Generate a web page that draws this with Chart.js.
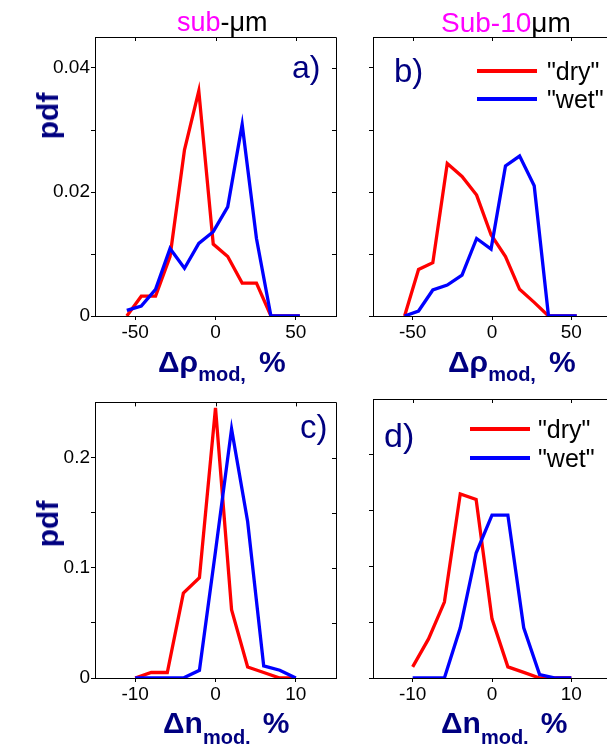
<!DOCTYPE html>
<html>
<head>
<meta charset="utf-8">
<script src="https://cdn.jsdelivr.net/npm/chart.js@4"></script>
<style>
  html, body { margin:0; padding:0; background:#fff; width:607px; height:744px; overflow:hidden; position:relative; }
  canvas { position:absolute; }
  .t { position:absolute; font-family:"Liberation Sans", Arial, sans-serif; line-height:1; white-space:nowrap; }
  .navy { color:#000080; }
  .bold { font-weight:bold; }
  .leg { position:absolute; height:0; border-top:4px solid; }
</style>
</head>
<body>
<canvas id="ca" width="345" height="390" style="left:0;top:0"></canvas>
<canvas id="cb" width="280" height="390" style="left:345px;top:0"></canvas>
<canvas id="cc" width="345" height="354" style="left:0;top:390px"></canvas>
<canvas id="cd" width="280" height="354" style="left:345px;top:390px"></canvas>

<!-- column titles -->
<div class="t" style="left:177px;top:9px;font-size:27px;"><span style="color:#ff00ff">sub</span>-<span>&mu;m</span></div>
<div class="t" style="left:441px;top:9px;font-size:28px;"><span style="color:#ff00ff">Sub-10</span><span>&mu;m</span></div>

<!-- panel letters -->
<div class="t navy" style="left:292px;top:51px;font-size:32px;">a)</div>
<div class="t navy" style="left:394px;top:54px;font-size:33px;">b)</div>
<div class="t navy" style="left:300px;top:410px;font-size:33px;">c)</div>
<div class="t navy" style="left:384px;top:418px;font-size:34px;">d)</div>

<!-- y titles -->
<div class="t navy bold" style="left:48px;top:116px;font-size:30px;transform:translate(-50%,-50%) rotate(-90deg);">pdf</div>
<div class="t navy bold" style="left:48px;top:524px;font-size:30px;transform:translate(-50%,-50%) rotate(-90deg);">pdf</div>

<!-- x titles -->
<div class="t navy bold" style="left:158px;top:347px;font-size:30px;">&Delta;&rho;<span style="font-size:20px;position:relative;top:9px;">mod</span><span style="font-size:20px;position:relative;top:9px;">,</span><span style="margin-left:13px">%</span></div>
<div class="t navy bold" style="left:448px;top:347px;font-size:30px;">&Delta;&rho;<span style="font-size:20px;position:relative;top:9px;">mod</span><span style="font-size:20px;position:relative;top:9px;">,</span><span style="margin-left:13px">%</span></div>
<div class="t navy bold" style="left:163px;top:708px;font-size:30px;">&Delta;n<span style="font-size:20px;position:relative;top:11px;">mod</span><span style="font-size:20px;position:relative;top:11px;">,</span><span style="margin-left:12px">%</span></div>
<div class="t navy bold" style="left:441px;top:708px;font-size:30px;">&Delta;n<span style="font-size:20px;position:relative;top:11px;">mod</span><span style="font-size:20px;position:relative;top:11px;">,</span><span style="margin-left:12px">%</span></div>

<!-- legends -->
<div class="leg" style="left:477px;top:69px;width:60px;border-color:#ff0000"></div>
<div class="t" style="left:547px;top:59px;font-size:25px;">"dry"</div>
<div class="leg" style="left:477px;top:97px;width:60px;border-color:#0000ff"></div>
<div class="t" style="left:547px;top:87px;font-size:25px;">"wet"</div>
<div class="leg" style="left:470px;top:427px;width:60px;border-color:#ff0000"></div>
<div class="t" style="left:538px;top:417px;font-size:25px;">"dry"</div>
<div class="leg" style="left:470px;top:456px;width:60px;border-color:#0000ff"></div>
<div class="t" style="left:538px;top:446px;font-size:25px;">"wet"</div>

<script>
// ---- data ----
const seriesNames = ['"dry"', '"wet"'];
const rhoBinsSubUm = [-55.2, -46.2, -37.3, -28.3, -19.3, -10.4, -1.4, 7.6, 16.6, 25.5, 34.5, 43.5, 52.5];
const rhoSubUmDry  = [0, 0.0032, 0.0032, 0.0096, 0.0268, 0.0363, 0.0116, 0.0096, 0.0053, 0.0053, 0, 0, 0];
const rhoSubUmWet  = [0.0009, 0.0016, 0.0043, 0.0109, 0.0077, 0.0117, 0.0136, 0.0176, 0.0309, 0.0125, 0, 0, 0];

const rhoBinsSub10 = [-55.1, -46.3, -37.3, -28.2, -18.9, -9.7, -0.6, 8.5, 17.4, 26.6, 35.6, 44.5, 53.4];
const rhoSub10Dry  = [0, 0.0075, 0.0086, 0.0246, 0.0225, 0.0195, 0.0131, 0.0096, 0.0043, 0.0022, 0, 0, 0];
const rhoSub10Wet  = [0, 0.0008, 0.0042, 0.0050, 0.0066, 0.0125, 0.0108, 0.0242, 0.0258, 0.0210, 0, 0, 0];

const nBins       = [-10, -8, -6, -4, -2, 0, 2, 4, 6, 8, 10];
const nSubUmDry   = [0, 0.005, 0.005, 0.077, 0.091, 0.245, 0.062, 0.010, 0.005, 0, 0];
const nSubUmWet   = [0, 0, 0, 0, 0.007, 0.115, 0.226, 0.142, 0.011, 0.007, 0];
const nSub10Dry   = [0.010, 0.035, 0.068, 0.165, 0.160, 0.053, 0.010, 0.005, 0, 0, 0];
const nSub10Wet   = [0, 0, 0, 0.045, 0.112, 0.146, 0.146, 0.045, 0.003, 0, 0];

const rhoXTicks = [-50, 0, 50];
const rhoXLabels = ['-50', '0', '50'];
const nXTicks = [-10, 0, 10];
const nXLabels = ['-10', '0', '10'];
const rhoYTicks = [0, 0.01, 0.02, 0.03, 0.04];
const rhoYLabels = ['0', '', '0.02', '', '0.04'];
const nYTicks = [0, 0.05, 0.1, 0.15, 0.2];
const nYLabels = ['0', '', '0.1', '', '0.2'];

// ---- helpers ----
const FONT = { family: '"Liberation Sans", Arial, sans-serif', size: 19 };
function pts(xs, ys) { return xs.map((x, i) => ({ x: x, y: ys[i] })); }

const framePlugin = {
  id: 'frame',
  afterDraw(chart) {
    const a = chart.chartArea, c = chart.ctx;
    c.save();
    c.strokeStyle = '#000'; c.lineWidth = 1;
    c.beginPath();
    c.moveTo(Math.round(a.left) + 0.5, Math.round(a.top) + 0.5);
    c.lineTo(Math.round(a.right) + 0.5, Math.round(a.top) + 0.5);
    c.lineTo(Math.round(a.right) + 0.5, Math.round(a.bottom) + 0.5);
    c.stroke();
    // inward mirror ticks on top
    const xs = chart.scales.x, ys = chart.scales.y;
    xs.ticks.forEach(t => {
      const px = Math.round(xs.getPixelForValue(t.value)) + 0.5;
      c.beginPath(); c.moveTo(px, a.top); c.lineTo(px, a.top + 4); c.stroke();
    });
    ys.ticks.forEach(t => {
      const py = Math.round(ys.getPixelForValue(t.value)) + 0.5;
      c.beginPath(); c.moveTo(a.right, py); c.lineTo(a.right - 4, py); c.stroke();
    });
    c.restore();
  }
};

function makeChart(id, cfg) {
  const ds = [
    { label: seriesNames[0], data: pts(cfg.xs, cfg.dry), borderColor: '#ff0000', order: 2 },
    { label: seriesNames[1], data: pts(cfg.xs, cfg.wet), borderColor: '#0000ff', order: 1 }
  ].map(d => Object.assign(d, { borderWidth: 3.3, pointRadius: 0, tension: 0, fill: false }));
  return new Chart(document.getElementById(id), {
    type: 'line',
    data: { datasets: ds },
    plugins: [framePlugin],
    options: {
      responsive: false, animation: false, devicePixelRatio: 1,
      layout: { padding: { top: cfg.padTop, right: cfg.padRight, left: 0, bottom: 0 } },
      plugins: { legend: { display: false }, tooltip: { enabled: false } },
      scales: {
        x: {
          type: 'linear', min: cfg.xmin, max: cfg.xmax,
          afterBuildTicks: s => { s.ticks = cfg.xTicks.map(v => ({ value: v })); },
          afterFit: s => { s.height = cfg.xAxisH; },
          ticks: { font: FONT, color: '#000', padding: 1, maxRotation: 0, autoSkip: false,
                   callback: (v) => { const i = cfg.xTicks.indexOf(v); return i >= 0 ? cfg.xLabels[i] : ''; } },
          grid: { drawOnChartArea: false, drawTicks: true, tickLength: 4, color: '#000' },
          border: { display: true, color: '#000', width: 1 }
        },
        y: {
          type: 'linear', min: 0, max: cfg.ymax,
          afterBuildTicks: s => { s.ticks = cfg.yTicks.map(v => ({ value: v })); },
          afterFit: s => { s.width = cfg.yAxisW; },
          ticks: { font: FONT, color: '#000', padding: 1, autoSkip: false, display: cfg.showY,
                   callback: (v) => { const i = cfg.yTicks.indexOf(v); return i >= 0 ? cfg.yLabels[i] : ''; } },
          grid: { drawOnChartArea: false, drawTicks: true, tickLength: 4, color: '#000' },
          border: { display: true, color: '#000', width: 1 }
        }
      }
    }
  });
}

makeChart('ca', { xs: rhoBinsSubUm, dry: rhoSubUmDry, wet: rhoSubUmWet, xmin: -75, xmax: 75, ymax: 0.045,
  xTicks: rhoXTicks, xLabels: rhoXLabels, yTicks: rhoYTicks, yLabels: rhoYLabels,
  padTop: 37, padRight: 9, yAxisW: 95, xAxisH: 74, showY: true });
makeChart('cb', { xs: rhoBinsSub10, dry: rhoSub10Dry, wet: rhoSub10Wet, xmin: -75, xmax: 75, ymax: 0.045,
  xTicks: rhoXTicks, xLabels: rhoXLabels, yTicks: rhoYTicks, yLabels: rhoYLabels,
  padTop: 37, padRight: 14, yAxisW: 28, xAxisH: 74, showY: false });
makeChart('cc', { xs: nBins, dry: nSubUmDry, wet: nSubUmWet, xmin: -15, xmax: 15, ymax: 0.25,
  xTicks: nXTicks, xLabels: nXLabels, yTicks: nYTicks, yLabels: nYLabels,
  padTop: 9, padRight: 9, yAxisW: 95, xAxisH: 66, showY: true });
makeChart('cd', { xs: nBins, dry: nSub10Dry, wet: nSub10Wet, xmin: -15, xmax: 15, ymax: 0.25,
  xTicks: nXTicks, xLabels: nXLabels, yTicks: nYTicks, yLabels: nYLabels,
  padTop: 9, padRight: 14, yAxisW: 28, xAxisH: 66, showY: false });
</script>
</body>
</html>
